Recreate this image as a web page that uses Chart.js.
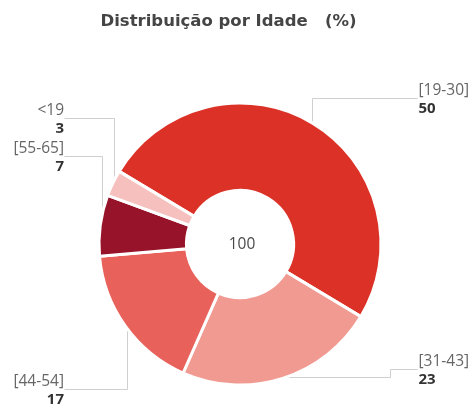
<!DOCTYPE html>
<html>
<head>
<meta charset="utf-8">
<script src="https://cdn.jsdelivr.net/npm/chart.js@4/dist/chart.umd.min.js"></script>
<style>
  html, body { margin: 0; padding: 0; background: #fff; }
  #wrap { width: 475px; height: 408px; }
</style>
</head>
<body>
<div id="wrap"><canvas id="ageChart" width="475" height="408"></canvas></div>
<script>
// Age distribution data (%)
const titleText = 'Distribuição por Idade   (%)';
const categories = ['[19-30]', '[31-43]', '[44-54]', '[55-65]', '<19'];
const values = [50, 23, 17, 7, 3];

const sliceColors = ['#dc3127', '#f19a92', '#e8615a', '#97132a', '#f5c0bd'];

// callout layout, same order as categories
const callouts = [
  { side: 'right', lineY: 98.5 },
  { side: 'right', lineY: 369.5, elbowY: 377.5, stepX: 390.5 },
  { side: 'left', lineY: 389.5 },
  { side: 'left', lineY: 156.5 },
  { side: 'left', lineY: 118.5 }
];
const rightColX = 417.5;
const leftColX = 64.5;

function anchorOf(arc) {
  const mid = (arc.startAngle + arc.endAngle) / 2;
  const r = arc.outerRadius - 1.5;
  return { x: arc.x + Math.cos(mid) * r, y: arc.y + Math.sin(mid) * r };
}

const calloutPlugin = {
  id: 'callouts',
  beforeDatasetsDraw(chart) {
    const ctx = chart.ctx;
    const arcs = chart.getDatasetMeta(0).data;
    ctx.save();
    ctx.strokeStyle = '#cfcfcf';
    ctx.lineWidth = 1;
    arcs.forEach((arc, i) => {
      const c = callouts[i];
      const a = anchorOf(arc);
      const ax = Math.round(a.x) + 0.5;
      const endX = c.side === 'right' ? rightColX : leftColX;
      ctx.beginPath();
      ctx.moveTo(ax, a.y);
      if (c.elbowY !== undefined) {
        ctx.lineTo(ax, c.elbowY);
        ctx.lineTo(c.stepX, c.elbowY);
        ctx.lineTo(c.stepX, c.lineY);
      } else {
        ctx.lineTo(ax, c.lineY);
      }
      ctx.lineTo(endX, c.lineY);
      ctx.stroke();
    });
    ctx.restore();
  },
  afterDraw(chart) {
    const ctx = chart.ctx;
    const arcs = chart.getDatasetMeta(0).data;
    ctx.save();
    // title
    ctx.fillStyle = '#454545';
    ctx.font = 'bold 16.5px "DejaVu Sans"';
    ctx.textAlign = 'center';
    ctx.textBaseline = 'middle';
    ctx.fillText(titleText, 228.5, 22);

    // labels
    arcs.forEach((arc, i) => {
      const c = callouts[i];
      const right = c.side === 'right';
      const tx = right ? rightColX + 1 : leftColX - 0.5;
      ctx.textAlign = right ? 'left' : 'right';
      ctx.fillStyle = '#666';
      ctx.font = '15.5px "Open Sans"';
      ctx.fillText(categories[i], tx, c.lineY - 8);
      ctx.fillStyle = '#333';
      ctx.font = 'bold 15px "Open Sans"';
      ctx.fillText(String(values[i]), tx, c.lineY + 10.5);
    });

    // total in the hole
    const total = values.reduce((s, v) => s + v, 0);
    ctx.textAlign = 'center';
    ctx.fillStyle = '#4a4a4a';
    ctx.font = '15.5px "Open Sans"';
    ctx.fillText(String(total), arcs[0].x + 2, arcs[0].y + 1);
    ctx.restore();
  }
};

new Chart(document.getElementById('ageChart'), {
  type: 'doughnut',
  data: {
    labels: categories,
    datasets: [{
      data: values,
      backgroundColor: sliceColors,
      borderColor: '#ffffff',
      borderWidth: 3,
      hoverOffset: 0
    }]
  },
  options: {
    responsive: false,
    animation: false,
    rotation: -59,
    cutout: '38%',
    layout: { padding: { top: 101.5, bottom: 21.5, left: 5, right: 0 } },
    plugins: {
      legend: { display: false },
      title: { display: false },
      tooltip: { enabled: false }
    }
  },
  plugins: [calloutPlugin]
});
</script>
</body>
</html>
